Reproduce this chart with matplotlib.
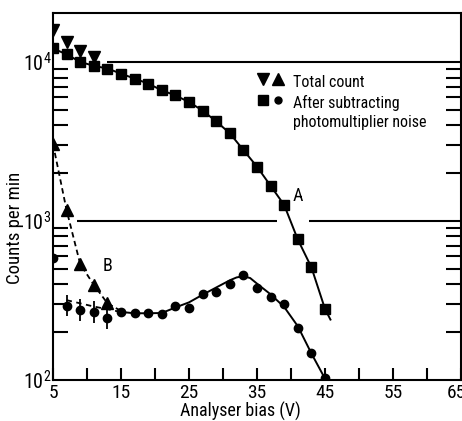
import numpy as np
import matplotlib
matplotlib.use('Agg')
import matplotlib.pyplot as plt
import matplotlib.transforms as mtransforms
from matplotlib.ticker import FixedLocator, NullFormatter
from matplotlib import font_manager as fm

# choose a narrow font if one is installed
narrow = None
for fam in ['Liberation Sans Narrow', 'DejaVu Sans Condensed', 'Roboto Condensed',
            'Noto Sans Condensed', 'Open Sans Condensed']:
    try:
        fm.findfont(fm.FontProperties(family=fam), fallback_to_default=False)
        narrow = fam
        break
    except Exception:
        pass

if narrow:
    plt.rcParams['font.family'] = [narrow, 'DejaVu Sans']
    SC = 1.0
else:
    plt.rcParams['font.family'] = ['Liberation Sans', 'DejaVu Sans']
    SC = 0.8
plt.rcParams['mathtext.fontset'] = 'custom'
plt.rcParams['mathtext.rm'] = plt.rcParams['font.family'][0]

# ---- data ----
bias = [5, 7, 9, 11, 13, 15, 17, 19, 21, 23, 25, 27, 29, 31, 33, 35, 37, 39, 41, 43, 45]
squares_A = [12200, 11200, 10040, 9480, 9120, 8470, 7880, 7330, 6650, 6180, 5610,
             4960, 4240, 3570, 2800, 2200, 1667, 1262, 766, 512, 280]
tri_down_x = [5, 7, 9, 11]
tri_down_A = [15900, 13300, 11700, 10800]

circles_B = [586, 294, 276, 267, 244, 269, 263, 263, 261, 294, 283, 347, 360, 403,
             460, 382, 335, 301, 213, 147, 103]
tri_up_x = [5, 7, 9, 11, 13]
tri_up_B = [3055, 1170, 537, 397, 304]

err_x = [5, 7, 9, 11, 13]
err_lo = [521, 251, 235, 228, 208]
err_hi = [655, 345, 324, 313, 286]

# hand-drawn curves
curveA_x = bias + [45.8]
curveA_y = squares_A + [240]
curveB_x = [15, 17, 19, 21, 23, 25, 27, 29, 31, 32, 33, 34, 35, 37, 39, 41, 43, 45]
curveB_y = [268, 263, 263, 264, 286, 308, 344, 382, 424, 442, 450, 438, 404, 346, 288, 218, 147, 102]
dashB_tot_x = tri_up_x + [15]
dashB_tot_y = tri_up_B + [272]
dashB_sub_x = [7, 11, 15]
dashB_sub_y = [318, 290, 268]

xticks = [5, 15, 25, 35, 45, 55, 65]
xminor = [10, 20, 30, 40, 50, 60]
yticks = [100, 1000, 10000]
ylabels = [r'$\mathregular{10^2}$', r'$\mathregular{10^3}$', r'$\mathregular{10^4}$']

W, H = 462, 421
fig = plt.figure(figsize=(W / 100, H / 100), dpi=100)
ax = fig.add_axes([53 / W, 1 - 380 / H, 408 / W, 366.7 / H])
ax.set_yscale('log')
ax.set_xlim(5, 65)
ax.set_ylim(100, 2.03e4)

# horizontal reference lines
ax.hlines(10000, 12.9, 65, color='black', lw=1.5, zorder=1)
ax.hlines(1000, 8.5, 38.0, color='black', lw=1.5, zorder=1)
ax.hlines(1000, 42.6, 65, color='black', lw=1.5, zorder=1)

# curves
ax.plot(curveA_x, curveA_y, color='black', lw=1.4, zorder=2)
ax.plot(curveB_x, curveB_y, color='black', lw=1.4, zorder=2)
ax.plot(dashB_tot_x, dashB_tot_y, color='black', lw=1.3, ls=(0, (3, 2)), zorder=2)
ax.plot(dashB_sub_x, dashB_sub_y, color='black', lw=1.3, ls=(0, (3, 2.5)), zorder=2)

# markers
ax.plot(bias, squares_A, 's', color='black', ms=6.5, zorder=3)
ax.plot(tri_down_x, tri_down_A, 'v', color='black', ms=8, zorder=3)
ax.plot(bias, circles_B, 'o', color='black', ms=6, zorder=3)
ax.plot(tri_up_x, tri_up_B, '^', color='black', ms=8, zorder=3)
ax.vlines(err_x, err_lo, err_hi, color='black', lw=1.3, zorder=3)

# labels A and B
ax.text(41.0, 1443, 'A', fontsize=13 * SC, ha='center', va='center')
ax.text(13.0, 521, 'B', fontsize=13 * SC, ha='center', va='center')

# legend drawn by hand
tr = ax.transAxes
ax.plot([0.515], [0.822], 'v', color='black', ms=8, transform=tr, clip_on=False)
ax.plot([0.551], [0.822], '^', color='black', ms=8, transform=tr, clip_on=False)
ax.plot([0.515], [0.764], 's', color='black', ms=7.5, transform=tr, clip_on=False)
ax.plot([0.551], [0.764], 'o', color='black', ms=5, transform=tr, clip_on=False)
lfs = 11.5 if narrow else 9.5
ax.text(0.588, 0.799, 'Total count', transform=tr, fontsize=lfs, va='baseline')
ax.text(0.588, 0.742, 'After subtracting', transform=tr, fontsize=lfs, va='baseline')
ax.text(0.588, 0.690, 'photomultiplier noise', transform=tr, fontsize=lfs, va='baseline')

# axes styling
for s in ax.spines.values():
    s.set_linewidth(1.5)
ax.set_xticks(xticks, labels=[str(v) for v in xticks])
ax.xaxis.set_minor_locator(FixedLocator(xminor))
ax.tick_params(axis='x', which='both', direction='in', length=9, width=1.5,
               top=False, labelsize=14 * SC, pad=3)
ax.set_yticks(yticks, labels=ylabels)
ax.yaxis.set_minor_locator(FixedLocator([k * 10 ** d for d in (2, 3) for k in range(2, 10)]))
ax.yaxis.set_minor_formatter(NullFormatter())
ax.tick_params(axis='y', which='major', length=0, pad=1, labelsize=14.5 * SC)
ax.tick_params(axis='y', which='minor', direction='in', length=11, width=1.5,
               left=True, right=True)

# nudge the last x tick label slightly left, as in the reference
last = ax.get_xticklabels()[-1]
last.set_transform(last.get_transform() +
                   mtransforms.ScaledTranslation(-5 / 100, 0, fig.dpi_scale_trans))

fig.text(240 / W, 1 - 411 / H, 'Analyser bias (V)', fontsize=13 * (SC if narrow else 0.85),
         ha='center', va='center')
fig.text(15 / W, 1 - 228 / H, 'Counts per min', fontsize=13.5 * (SC if narrow else 0.85),
         ha='center', va='center', rotation=90)

fig.savefig('out.png', dpi=100)
